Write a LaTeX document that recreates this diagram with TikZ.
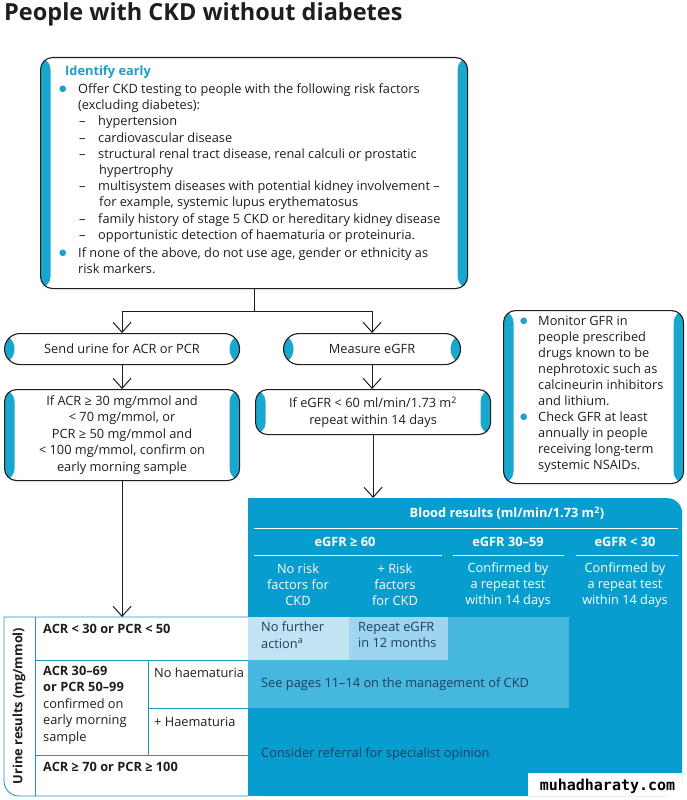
\documentclass[tikz,border=0pt]{standalone}
\usepackage{fontspec}
\setmainfont{Open Sans}
\newfontfamily\wmfont{DejaVu Sans Mono}
\newfontfamily\symfont{DejaVu Sans}
\usetikzlibrary{arrows.meta,calc}
\definecolor{ink}{RGB}{30,30,30}
\definecolor{cyanS}{RGB}{25,167,206}
\definecolor{cyanT}{RGB}{27,160,200}
\definecolor{tblue}{RGB}{8,157,207}
\definecolor{tmid}{RGB}{70,184,224}
\definecolor{tlightA}{RGB}{192,228,242}
\definecolor{tlightB}{RGB}{157,213,238}
\definecolor{navy}{RGB}{28,62,94}
\definecolor{tline}{RGB}{30,150,190}
\newcommand{\bul}{\textcolor{cyanT}{\raisebox{1.6pt}{\symfont\fontsize{8.5}{8.5}\selectfont ●}}}
\newcommand{\dsh}{\hspace*{20pt}\makebox[19pt][l]{–}}
\begin{document}
\begin{tikzpicture}[x=1pt,y=-1pt,
  sbox/.style={draw=ink, line width=1.1pt, rounded corners=#1, fill=white, inner sep=0pt, anchor=north west,
    font=\fontsize{12.8}{16.5}\selectfont, text=ink,
    path picture={\fill[cyanS] (path picture bounding box.north west) rectangle ([xshift=10pt]path picture bounding box.south west);
      \fill[cyanS] (path picture bounding box.north east) rectangle ([xshift=-10pt]path picture bounding box.south east);}},
  sbox/.default=12pt,
  conn/.style={draw=ink, line width=1pt},
  arr/.style={conn, -{Straight Barb[length=10pt,width=18pt]}},
  ml/.style={inner sep=0pt, anchor=north west, align=left, text=ink, execute at begin node=\strut},
  txt/.style={inner sep=0pt, text=ink, font=\fontsize{12.8}{16.3}\selectfont},
  hdr/.style={inner sep=0pt, text=white, font=\bfseries\fontsize{12.8}{16}\selectfont},
  sub/.style={inner sep=0pt, text=white, align=center, font=\fontsize{12.8}{16}\selectfont},
  cell/.style={inner sep=0pt, text=navy, font=\fontsize{12.8}{16.5}\selectfont},
  tl/.style={draw=tline, line width=0.9pt},
  wl/.style={draw=white, line width=1pt}
]
\useasboundingbox (0,0) rectangle (686,800);

% title
\node[anchor=base west, inner sep=0pt, font=\bfseries\fontsize{23.5}{27}\selectfont, text=ink] (title) at (4,21) {People with CKD without diabetes};

% top box
\node[sbox, minimum width=427pt, minimum height=231pt] (top) at (40,57) {};
\node[ml, font=\fontsize{12.8}{16.2}\selectfont] (toptxt) at (59,65.6) {%
\hspace*{6pt}\textcolor{cyanT}{\bfseries Identify early}\\[1.8pt]
\makebox[19pt][l]{\bul}Offer CKD testing to people with the following risk factors\\
\hspace*{19pt}(excluding diabetes):\\
\dsh hypertension\\
\dsh cardiovascular disease\\
\dsh structural renal tract disease, renal calculi or prostatic\\
\hspace*{40pt}hypertrophy\\
\dsh multisystem diseases with potential kidney involvement –\\
\hspace*{40pt}for example, systemic lupus erythematosus\\
\dsh family history of stage 5 CKD or hereditary kidney disease\\
\dsh opportunistic detection of haematuria or proteinuria.\\[1.8pt]
\makebox[19pt][l]{\bul}If none of the above, do not use age, gender or ethnicity as\\
\hspace*{19pt}risk markers.};

% second level
\node[sbox=15.5pt, minimum width=235pt, minimum height=31pt] (urine) at (4,333) {Send urine for ACR or PCR};
\node[sbox=15.5pt, minimum width=177pt, minimum height=31pt] (meas) at (283,333) {Measure eGFR};

\node[sbox, minimum width=235pt, minimum height=91pt, align=center] (acr) at (4,389)
 {If ACR ≥ 30 mg/mmol and\\< 70 mg/mmol, or\\PCR ≥ 50 mg/mmol and\\< 100 mg/mmol, confirm on\\early morning sample};
\node[sbox, minimum width=235pt, minimum height=45pt, align=center] (gfr) at (255,389)
 {If eGFR < 60 ml/min/1.73 m\textsuperscript{2}\\repeat within 14 days};

% monitor box
\node[sbox, minimum width=180pt, minimum height=173pt] (mon) at (503,310) {};
\node[ml, font=\fontsize{12.8}{16}\selectfont] (montxt) at (520,315.6) {%
\makebox[18pt][l]{\bul}Monitor GFR in\\
\hspace*{18pt}people prescribed\\
\hspace*{18pt}drugs known to be\\
\hspace*{18pt}nephrotoxic such as\\
\hspace*{18pt}calcineurin inhibitors\\
\hspace*{18pt}and lithium.\\
\makebox[18pt][l]{\bul}Check GFR at least\\
\hspace*{18pt}annually in people\\
\hspace*{18pt}receiving long-term\\
\hspace*{18pt}systemic NSAIDs.};

% blood results region
\node[fill=tblue, rounded corners=15pt, inner sep=0pt, minimum width=434pt, minimum height=298pt, anchor=north west] (blood) at (248,498) {};
\fill[tblue] (248,498) rectangle (290,540);
\fill[tblue] (248,760) rectangle (682,796);
\fill[tmid] (248,617) rectangle (569,708);
\node[fill=tlightA, inner sep=0pt, minimum width=101pt, minimum height=43pt, anchor=north west] (nfa) at (248,617) {};
\node[fill=tlightB, inner sep=0pt, minimum width=99pt, minimum height=43pt, anchor=north west] (rep) at (349,617) {};

\node[hdr] (bres) at (507,513) {Blood results (ml/min/1.73 m\textsuperscript{2})};
\draw[wl] (254,528) -- (678,528);
\node[hdr] (g60) at (345,542) {eGFR ≥ 60};
\node[hdr] (g3059) at (508,542) {eGFR 30–59};
\node[hdr] (g30) at (625,542) {eGFR < 30};
\draw[wl] (254,555) -- (442,555);
\draw[wl] (453,555) -- (564,555);
\draw[wl] (576,555) -- (678,555);
\node[sub] (norisk) at (298,585) {No risk\\factors for\\CKD};
\node[sub] (risk) at (395,585) {+ Risk\\factors\\for CKD};
\node[sub] (conf1) at (508,585) {Confirmed by\\a repeat test\\within 14 days};
\node[sub] (conf2) at (625,585) {Confirmed by\\a repeat test\\within 14 days};

\node[cell, ml, text=navy] (nfatxt) at (261,621.6) {No further\\action\textsuperscript{a}};
\node[cell, ml, text=navy] (reptxt) at (358,621.6) {Repeat eGFR\\in 12 months};
\node[cell, anchor=base west] (see) at (261,687) {See pages 11–14 on the management of CKD};
\node[cell, anchor=base west] (refer) at (261,757) {Consider referral for specialist opinion};

% watermark
\fill[white] (528,773) rectangle (682,796);
\node[inner sep=0pt, font=\wmfont\bfseries\fontsize{15}{18}\selectfont, text=black] (wm) at (607.5,786) {muhadharaty.com};

% urine results table
\node[inner sep=0pt, minimum width=244pt, minimum height=179pt, anchor=north west] (utab) at (4,617) {};
\draw[tl] (248,617) -- (4,617) -- (4,781) .. controls (4,789.3) and (10.7,796) .. (19,796) -- (248,796);
\draw[tl] (35,617) -- (35,796);
\draw[tl] (35,660) -- (248,660);
\draw[tl] (35,755) -- (248,755);
\draw[tl] (148,660) -- (148,755);
\draw[tl] (148,708) -- (248,708);
\node[inner sep=0pt, rotate=90, text=ink, font=\bfseries\fontsize{12.8}{16}\selectfont] (ulab) at (19,706) {Urine results (mg/mmol)};
\node[txt, anchor=base west, font=\bfseries\fontsize{12.8}{16}\selectfont] (r1) at (43,633) {ACR < 30 or PCR < 50};
\node[ml, font=\fontsize{12.8}{16.5}\selectfont] (r2) at (43,665.6) {\textbf{ACR 30–69}\\\textbf{or PCR 50–99}\\confirmed on\\early morning\\sample};
\node[txt, anchor=base west] (noh) at (154,677) {No haematuria};
\node[txt, anchor=base west] (plush) at (154,726) {+ Haematuria};
\node[txt, anchor=base west, font=\bfseries\fontsize{12.8}{16}\selectfont] (r3) at (43,771) {ACR ≥ 70 or PCR ≥ 100};

% connectors
\coordinate (j) at ($(top.south)+(0,22)$);
\draw[conn] (top.south) -- (j);
\draw[arr] (j) -| (urine.north);
\draw[arr] (j) -| (meas.north);
\draw[arr] (urine.south) -- (acr.north);
\draw[arr] (meas.south) -- (meas.south |- gfr.north);
\draw[arr] (gfr.south) -- (gfr.south |- blood.north);
\draw[arr] (acr.south) -- (acr.south |- utab.north);
\end{tikzpicture}
\end{document}
